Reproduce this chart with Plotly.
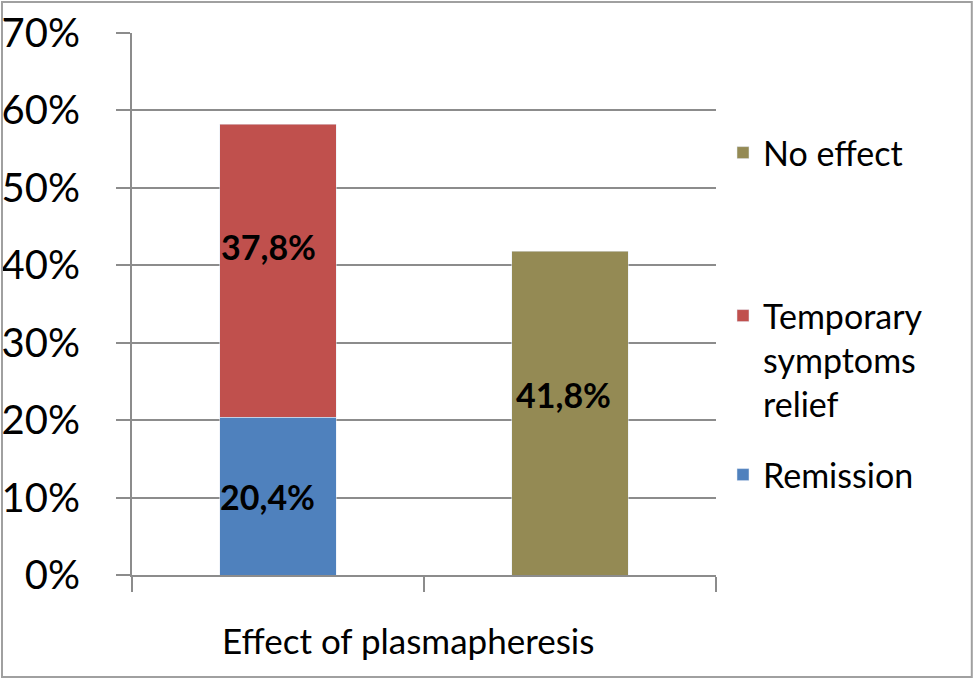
import plotly.graph_objects as go

# Daten
categories = ["Gruppe A", "Gruppe B"]
remission = [0.204, None]
temporary = [0.378, None]
no_effect = [None, 0.418]
label_remission = "20,4%"
label_temporary = "37,8%"
label_no_effect = "41,8%"

FONT = "Lato"
GRID = "#8c8c8c"

fig = go.Figure()

fig.add_trace(go.Bar(
    x=categories, y=remission, name="Remission",
    marker_color="#4F81BD", legend="legend3",
))
fig.add_trace(go.Bar(
    x=categories, y=temporary, name="Temporary<br>symptoms<br>relief",
    marker_color="#C0504D", legend="legend2",
))
fig.add_trace(go.Bar(
    x=categories, y=no_effect, name="No effect",
    marker_color="#948A54", legend="legend",
))

# Werte-Beschriftungen in den Balken
labels = [
    (categories[0], remission[0] / 2, label_remission, 0, -11),
    (categories[0], remission[0] + temporary[0] / 2, label_temporary, 24, -10),
    (categories[1], no_effect[1] / 2, label_no_effect, 19, -7),
]
for x, y, txt, ys, xs in labels:
    fig.add_annotation(
        x=x, y=y, text=f"<b>{txt}</b>", showarrow=False,
        yshift=ys, xshift=xs,
        font=dict(family=FONT, size=34, color="black"),
    )

# Achsentitel unten
fig.add_annotation(
    x=0.5, y=0, xref="paper", yref="paper", yanchor="middle",
    yshift=-65, xshift=-16, showarrow=False,
    text="Effect of plasmapheresis",
    font=dict(family=FONT, size=35, color="black"),
)

# Rahmen um das ganze Bild
fig.add_shape(
    type="rect", xref="paper", yref="paper",
    x0=-0.2226, x1=1.438, y0=-0.188, y1=1.057,
    line=dict(color="#a0a0a0", width=2),
)

legend_style = dict(
    xanchor="left", yanchor="middle", x=1.012,
    font=dict(family=FONT, size=34, color="black"),
    bgcolor="rgba(0,0,0,0)", valign="top",
)

fig.update_layout(
    width=975, height=680,
    barmode="stack", bargap=0.6,
    plot_bgcolor="white", paper_bgcolor="white",
    margin=dict(l=132, r=259, t=33, b=105, autoexpand=False),
    showlegend=True,
    legend=dict(y=0.7786, **legend_style),
    legend2=dict(y=0.3967, **legend_style),
    legend3=dict(y=0.1845, **legend_style),
    font=dict(family=FONT, color="black"),
)

fig.update_yaxes(
    range=[0, 0.7], dtick=0.1, tickformat=".0%",
    showgrid=True, gridcolor=GRID, gridwidth=2,
    zeroline=False,
    showline=True, linecolor=GRID, linewidth=2,
    ticks="outside", ticklen=14, tickcolor=GRID, tickwidth=2,
    ticklabelstandoff=28,
    tickfont=dict(family=FONT, size=40, color="black"),
)

fig.update_xaxes(
    showticklabels=False, showgrid=False,
    showline=True, linecolor=GRID, linewidth=2,
    tickson="boundaries", ticks="outside", ticklen=15,
    tickcolor=GRID, tickwidth=2,
)

# Body-Rand des Browsers entfernen, damit die Grafik bei (0,0) beginnt
fig.write_html(
    "out.html",
    config={"displayModeBar": False},
    post_script="document.body.style.margin='0';",
)
